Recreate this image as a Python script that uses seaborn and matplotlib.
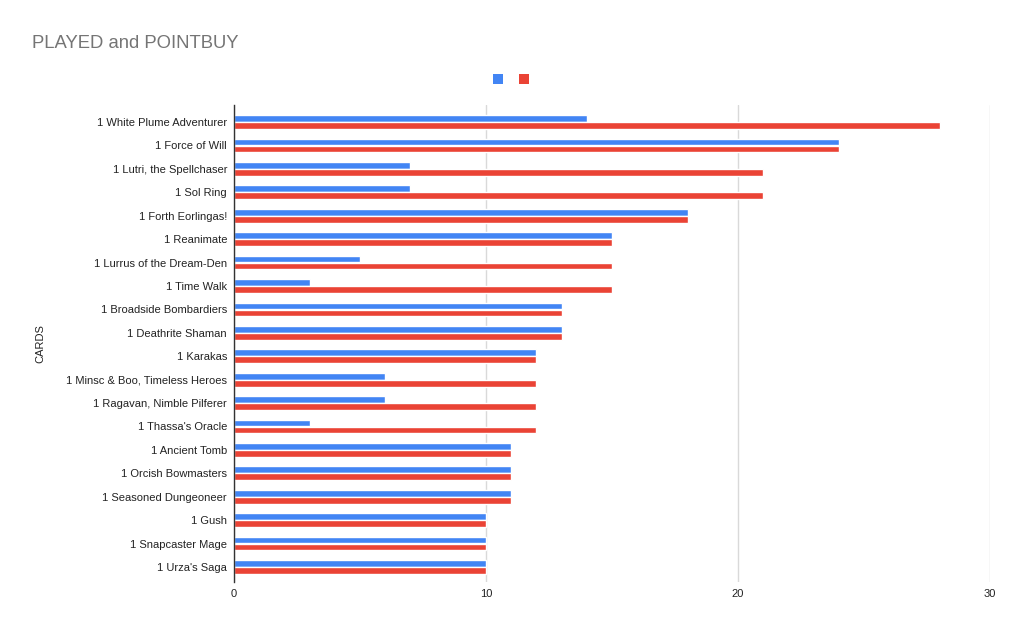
import pandas as pd
import matplotlib
matplotlib.use("Agg")
import matplotlib.pyplot as plt
import seaborn as sns
from matplotlib.patches import Patch

# values
cards = [
    "1 White Plume Adventurer", "1 Force of Will", "1 Lutri, the Spellchaser",
    "1 Sol Ring", "1 Forth Eorlingas!", "1 Reanimate", "1 Lurrus of the Dream-Den",
    "1 Time Walk", "1 Broadside Bombardiers", "1 Deathrite Shaman", "1 Karakas",
    "1 Minsc & Boo, Timeless Heroes", "1 Ragavan, Nimble Pilferer",
    "1 Thassa's Oracle", "1 Ancient Tomb", "1 Orcish Bowmasters",
    "1 Seasoned Dungeoneer", "1 Gush", "1 Snapcaster Mage", "1 Urza's Saga",
]
played = [14, 24, 7, 7, 18, 15, 5, 3, 13, 13, 12, 6, 6, 3, 11, 11, 11, 10, 10, 10]
pointbuy = [28, 24, 21, 21, 18, 15, 15, 15, 13, 13, 12, 12, 12, 12, 11, 11, 11, 10, 10, 10]
series = ["PLAYED", "POINTBUY"]
colors = ["#4285F4", "#EA4335"]

df = pd.DataFrame({"CARDS": cards, "PLAYED": played, "POINTBUY": pointbuy})
long = df.melt(id_vars="CARDS", value_vars=series, var_name="series", value_name="value")

sns.set_style("white")
plt.rcParams["font.family"] = ["Liberation Sans", "DejaVu Sans"]

fig = plt.figure(figsize=(10.24, 6.33), dpi=100)
ax = fig.add_axes([0.2285, 0.0806, 0.7383, 0.7536])

sns.barplot(data=long, y="CARDS", x="value", hue="series", order=cards,
            hue_order=series, palette=colors, orient="h", width=0.6, gap=0.04,
            saturation=1, ax=ax, legend=False)

ax.set_xlim(0, 30)
ax.set_ylim(19.64, -0.73)
ax.set_xticks([0, 10, 20, 30])
ax.xaxis.grid(True, color="#d9d9d9", linewidth=1)
ax.set_axisbelow(True)
for s in ["top", "right", "bottom"]:
    ax.spines[s].set_visible(False)
ax.spines["left"].set_color("#333333")
ax.spines["left"].set_linewidth(1)
ax.tick_params(axis="both", length=0, labelsize=8, colors="#222222", pad=5)
ax.set_xlabel("")
ax.set_ylabel("CARDS", fontsize=8, color="#222222")
ax.yaxis.set_label_coords(-0.25, 0.5)

fig.text(32 / 1024, 1 - 43 / 633, "PLAYED and POINTBUY", fontsize=13.3,
         color="#757575", va="center", ha="left")

handles = [Patch(facecolor=c, edgecolor="none") for c in colors]
fig.legend(handles, ["", ""], loc="center", bbox_to_anchor=(511 / 1024, 1 - 80 / 633),
           ncol=2, frameon=False, handlelength=0.75, handleheight=0.8,
           columnspacing=1.1, handletextpad=0.0)

fig.savefig("out.png", dpi=100)
